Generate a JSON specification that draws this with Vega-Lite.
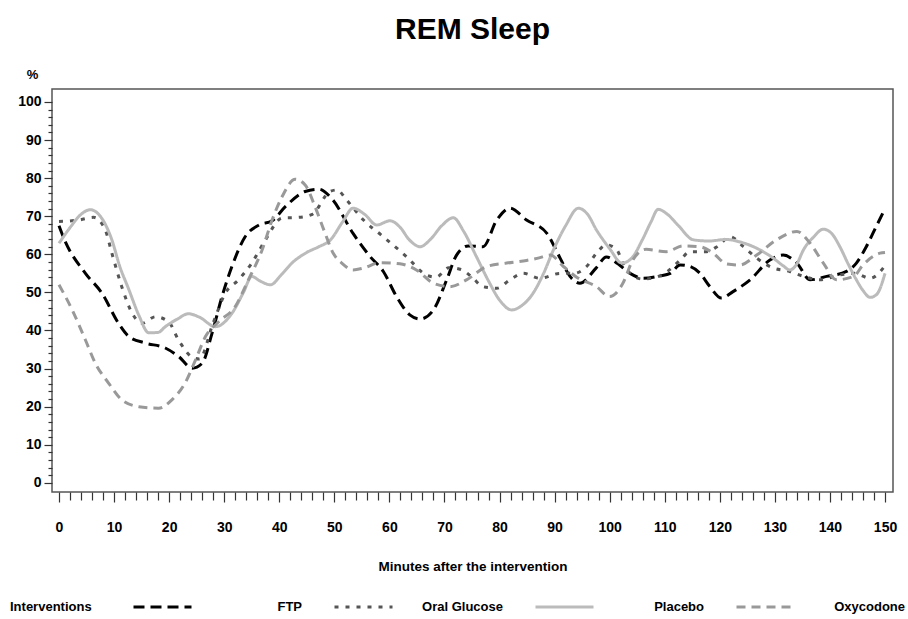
{
  "$schema": "https://vega.github.io/schema/vega-lite/v6.json",
  "width": 841,
  "height": 403,
  "autosize": {"type": "none"},
  "padding": {"left": 52, "top": 89, "right": 15, "bottom": 127},
  "background": "white",
  "config": {"font": "Liberation Sans", "view": {"stroke": "#555", "strokeWidth": 1.5}},
  "title": {"text": "REM Sleep", "fontSize": 30, "fontWeight": "bold", "color": "black", "anchor": "middle", "baseline": "alphabetic", "frame": "group", "offset": -1},
  "data": {"values": [
    {"s":"FTP","t":0,"v":67.5},{"s":"FTP","t":1,"v":63.8},{"s":"FTP","t":4.8,"v":55},{"s":"FTP","t":7.8,"v":49.8},{"s":"FTP","t":10.8,"v":41.9},{"s":"FTP","t":12.7,"v":38.4},{"s":"FTP","t":15.7,"v":36.7},{"s":"FTP","t":19.3,"v":35.4},{"s":"FTP","t":21.7,"v":33.2},{"s":"FTP","t":24.2,"v":30.1},{"s":"FTP","t":26,"v":31.4},{"s":"FTP","t":27.8,"v":39.3},{"s":"FTP","t":29.6,"v":48.9},{"s":"FTP","t":31.4,"v":56.8},{"s":"FTP","t":33.8,"v":64.6},{"s":"FTP","t":36.3,"v":67.7},{"s":"FTP","t":38.7,"v":68.8},{"s":"FTP","t":41.1,"v":72.5},{"s":"FTP","t":44.7,"v":76.5},{"s":"FTP","t":47.2,"v":77.1},{"s":"FTP","t":49.6,"v":74.5},{"s":"FTP","t":53.4,"v":65.5},{"s":"FTP","t":56.5,"v":59.4},{"s":"FTP","t":58.9,"v":55.5},{"s":"FTP","t":61.3,"v":48.9},{"s":"FTP","t":63.7,"v":44.1},{"s":"FTP","t":65.6,"v":43},{"s":"FTP","t":68,"v":45.4},{"s":"FTP","t":70.4,"v":53.3},{"s":"FTP","t":72.2,"v":59.8},{"s":"FTP","t":74.3,"v":62.2},{"s":"FTP","t":77,"v":62},{"s":"FTP","t":79.5,"v":69},{"s":"FTP","t":81.9,"v":72.1},{"s":"FTP","t":84.9,"v":69},{"s":"FTP","t":88.6,"v":65.5},{"s":"FTP","t":91,"v":59},{"s":"FTP","t":92.8,"v":54.2},{"s":"FTP","t":94.6,"v":52.4},{"s":"FTP","t":97.6,"v":56.5},{"s":"FTP","t":99.4,"v":59.3},{"s":"FTP","t":101.5,"v":57.5},{"s":"FTP","t":103.7,"v":55},{"s":"FTP","t":106.1,"v":53.7},{"s":"FTP","t":109.1,"v":54.3},{"s":"FTP","t":111,"v":55},{"s":"FTP","t":112.8,"v":57.2},{"s":"FTP","t":114.6,"v":56.8},{"s":"FTP","t":116.4,"v":55},{"s":"FTP","t":118.2,"v":51.5},{"s":"FTP","t":120.3,"v":48.5},{"s":"FTP","t":122.4,"v":50.2},{"s":"FTP","t":125.5,"v":53.3},{"s":"FTP","t":129.1,"v":58.5},{"s":"FTP","t":131.5,"v":59.8},{"s":"FTP","t":134,"v":57.7},{"s":"FTP","t":136.4,"v":53.3},{"s":"FTP","t":139.4,"v":54.2},{"s":"FTP","t":143,"v":55.5},{"s":"FTP","t":144.8,"v":57.7},{"s":"FTP","t":146.6,"v":62},{"s":"FTP","t":148.4,"v":67.3},{"s":"FTP","t":150,"v":72},
    {"s":"Oral Glucose","t":0,"v":68.6},{"s":"Oral Glucose","t":3.6,"v":69},{"s":"Oral Glucose","t":6.3,"v":69.7},{"s":"Oral Glucose","t":8.4,"v":66.4},{"s":"Oral Glucose","t":9.6,"v":60.3},{"s":"Oral Glucose","t":11.4,"v":51.5},{"s":"Oral Glucose","t":13.3,"v":44.5},{"s":"Oral Glucose","t":15.1,"v":41.9},{"s":"Oral Glucose","t":17.5,"v":43.6},{"s":"Oral Glucose","t":19.9,"v":42.3},{"s":"Oral Glucose","t":21.7,"v":37.5},{"s":"Oral Glucose","t":24.2,"v":33},{"s":"Oral Glucose","t":25.5,"v":32.5},{"s":"Oral Glucose","t":28,"v":42},{"s":"Oral Glucose","t":30.2,"v":49.8},{"s":"Oral Glucose","t":32.6,"v":53.3},{"s":"Oral Glucose","t":35,"v":57.7},{"s":"Oral Glucose","t":37.5,"v":63.8},{"s":"Oral Glucose","t":40.5,"v":69.5},{"s":"Oral Glucose","t":43.5,"v":69.7},{"s":"Oral Glucose","t":46,"v":70.5},{"s":"Oral Glucose","t":49.2,"v":76.5},{"s":"Oral Glucose","t":50.5,"v":76.9},{"s":"Oral Glucose","t":52.2,"v":74.3},{"s":"Oral Glucose","t":55.3,"v":69},{"s":"Oral Glucose","t":58.9,"v":64.6},{"s":"Oral Glucose","t":63.1,"v":59.4},{"s":"Oral Glucose","t":66.8,"v":54.5},{"s":"Oral Glucose","t":68.5,"v":54},{"s":"Oral Glucose","t":70.8,"v":56.5},{"s":"Oral Glucose","t":73,"v":56},{"s":"Oral Glucose","t":75,"v":54},{"s":"Oral Glucose","t":77,"v":51.5},{"s":"Oral Glucose","t":79.5,"v":51.1},{"s":"Oral Glucose","t":81.9,"v":53.3},{"s":"Oral Glucose","t":84.3,"v":55},{"s":"Oral Glucose","t":87.3,"v":53.7},{"s":"Oral Glucose","t":91,"v":55},{"s":"Oral Glucose","t":93.5,"v":55},{"s":"Oral Glucose","t":95.8,"v":56.8},{"s":"Oral Glucose","t":97.6,"v":60.3},{"s":"Oral Glucose","t":99.4,"v":62.5},{"s":"Oral Glucose","t":101.3,"v":61.2},{"s":"Oral Glucose","t":102.4,"v":57.7},{"s":"Oral Glucose","t":103.7,"v":55},{"s":"Oral Glucose","t":106,"v":53.5},{"s":"Oral Glucose","t":108.5,"v":54},{"s":"Oral Glucose","t":110.5,"v":55.5},{"s":"Oral Glucose","t":112.8,"v":58.5},{"s":"Oral Glucose","t":114.6,"v":60.7},{"s":"Oral Glucose","t":117.6,"v":60.7},{"s":"Oral Glucose","t":119.5,"v":62},{"s":"Oral Glucose","t":121.9,"v":64.6},{"s":"Oral Glucose","t":124.3,"v":62},{"s":"Oral Glucose","t":126.7,"v":59},{"s":"Oral Glucose","t":129.7,"v":56.4},{"s":"Oral Glucose","t":132.7,"v":55.5},{"s":"Oral Glucose","t":135.2,"v":54.2},{"s":"Oral Glucose","t":138.2,"v":53.3},{"s":"Oral Glucose","t":141.8,"v":54.6},{"s":"Oral Glucose","t":144.5,"v":55},{"s":"Oral Glucose","t":147.3,"v":53.7},{"s":"Oral Glucose","t":150,"v":57},
    {"s":"Placebo","t":0,"v":62.9},{"s":"Placebo","t":2,"v":67},{"s":"Placebo","t":4,"v":70.5},{"s":"Placebo","t":5.7,"v":71.7},{"s":"Placebo","t":7.5,"v":70},{"s":"Placebo","t":9.6,"v":63.8},{"s":"Placebo","t":11,"v":57},{"s":"Placebo","t":12.7,"v":50.7},{"s":"Placebo","t":14.5,"v":44},{"s":"Placebo","t":16.3,"v":39.4},{"s":"Placebo","t":18,"v":39.5},{"s":"Placebo","t":19.3,"v":41},{"s":"Placebo","t":21.5,"v":43},{"s":"Placebo","t":23.5,"v":44.4},{"s":"Placebo","t":25.5,"v":43.5},{"s":"Placebo","t":28.4,"v":41},{"s":"Placebo","t":31.4,"v":44.5},{"s":"Placebo","t":33.5,"v":50},{"s":"Placebo","t":35,"v":54.2},{"s":"Placebo","t":36.5,"v":53},{"s":"Placebo","t":38.4,"v":52},{"s":"Placebo","t":40.3,"v":54.5},{"s":"Placebo","t":42.3,"v":57.7},{"s":"Placebo","t":45,"v":60.5},{"s":"Placebo","t":47.2,"v":62},{"s":"Placebo","t":49.3,"v":63.8},{"s":"Placebo","t":51.5,"v":68.5},{"s":"Placebo","t":53.4,"v":72.1},{"s":"Placebo","t":55.5,"v":70.5},{"s":"Placebo","t":57.7,"v":67.7},{"s":"Placebo","t":60.1,"v":68.8},{"s":"Placebo","t":62,"v":67},{"s":"Placebo","t":63.5,"v":64},{"s":"Placebo","t":65.6,"v":62},{"s":"Placebo","t":67.5,"v":64},{"s":"Placebo","t":69.5,"v":67.5},{"s":"Placebo","t":71.6,"v":69.6},{"s":"Placebo","t":73.5,"v":66},{"s":"Placebo","t":75.8,"v":59.4},{"s":"Placebo","t":78,"v":53},{"s":"Placebo","t":80,"v":48},{"s":"Placebo","t":82.2,"v":45.4},{"s":"Placebo","t":84,"v":46.5},{"s":"Placebo","t":86.1,"v":49.8},{"s":"Placebo","t":88,"v":55},{"s":"Placebo","t":89.8,"v":61.2},{"s":"Placebo","t":92,"v":67.5},{"s":"Placebo","t":94.3,"v":72.1},{"s":"Placebo","t":96,"v":70.5},{"s":"Placebo","t":97.6,"v":66.4},{"s":"Placebo","t":100,"v":61.5},{"s":"Placebo","t":102.2,"v":57.7},{"s":"Placebo","t":104,"v":59},{"s":"Placebo","t":106,"v":64},{"s":"Placebo","t":107.5,"v":68.5},{"s":"Placebo","t":108.8,"v":71.8},{"s":"Placebo","t":110.5,"v":70.5},{"s":"Placebo","t":112.5,"v":67.5},{"s":"Placebo","t":115.2,"v":63.8},{"s":"Placebo","t":118,"v":63.5},{"s":"Placebo","t":121.2,"v":63.9},{"s":"Placebo","t":123.5,"v":63.3},{"s":"Placebo","t":126.1,"v":62},{"s":"Placebo","t":129.7,"v":59},{"s":"Placebo","t":131.5,"v":57},{"s":"Placebo","t":132.7,"v":55.9},{"s":"Placebo","t":134,"v":57.5},{"s":"Placebo","t":135.2,"v":61.2},{"s":"Placebo","t":137,"v":64.5},{"s":"Placebo","t":138.8,"v":66.6},{"s":"Placebo","t":140.3,"v":65.5},{"s":"Placebo","t":141.8,"v":62},{"s":"Placebo","t":143.3,"v":57.5},{"s":"Placebo","t":144.8,"v":53.3},{"s":"Placebo","t":146,"v":50.5},{"s":"Placebo","t":147.3,"v":48.7},{"s":"Placebo","t":148.5,"v":49.5},{"s":"Placebo","t":150,"v":55},
    {"s":"Oxycodone","t":0,"v":52},{"s":"Oxycodone","t":2.4,"v":45.4},{"s":"Oxycodone","t":4.8,"v":37.5},{"s":"Oxycodone","t":6.6,"v":31.4},{"s":"Oxycodone","t":9,"v":26.2},{"s":"Oxycodone","t":11.4,"v":21.8},{"s":"Oxycodone","t":14.5,"v":20},{"s":"Oxycodone","t":18.1,"v":19.6},{"s":"Oxycodone","t":20.5,"v":21.8},{"s":"Oxycodone","t":22.9,"v":26.2},{"s":"Oxycodone","t":24.8,"v":32.3},{"s":"Oxycodone","t":26.6,"v":38.4},{"s":"Oxycodone","t":29,"v":42.3},{"s":"Oxycodone","t":32,"v":46.3},{"s":"Oxycodone","t":34.4,"v":53.3},{"s":"Oxycodone","t":36.9,"v":61.2},{"s":"Oxycodone","t":38.7,"v":69},{"s":"Oxycodone","t":40.5,"v":75.1},{"s":"Oxycodone","t":42.9,"v":79.7},{"s":"Oxycodone","t":44.7,"v":78.2},{"s":"Oxycodone","t":46.5,"v":72.5},{"s":"Oxycodone","t":48.2,"v":66},{"s":"Oxycodone","t":49.8,"v":60.3},{"s":"Oxycodone","t":51.5,"v":57.5},{"s":"Oxycodone","t":53.4,"v":55.9},{"s":"Oxycodone","t":55.3,"v":56.4},{"s":"Oxycodone","t":58.3,"v":57.8},{"s":"Oxycodone","t":61.9,"v":57.5},{"s":"Oxycodone","t":64.9,"v":55.9},{"s":"Oxycodone","t":68,"v":52.4},{"s":"Oxycodone","t":71,"v":51.5},{"s":"Oxycodone","t":74,"v":53.3},{"s":"Oxycodone","t":77.7,"v":56.8},{"s":"Oxycodone","t":81.3,"v":57.7},{"s":"Oxycodone","t":84.9,"v":58.4},{"s":"Oxycodone","t":87,"v":59},{"s":"Oxycodone","t":89.2,"v":59.8},{"s":"Oxycodone","t":91.6,"v":56.8},{"s":"Oxycodone","t":94,"v":54},{"s":"Oxycodone","t":97.6,"v":51.5},{"s":"Oxycodone","t":100,"v":48.9},{"s":"Oxycodone","t":102.4,"v":52.4},{"s":"Oxycodone","t":104.2,"v":58.5},{"s":"Oxycodone","t":106.6,"v":61.3},{"s":"Oxycodone","t":110.3,"v":60.7},{"s":"Oxycodone","t":113.3,"v":62.2},{"s":"Oxycodone","t":116.4,"v":62},{"s":"Oxycodone","t":118.8,"v":60.3},{"s":"Oxycodone","t":121.2,"v":57.5},{"s":"Oxycodone","t":123.6,"v":57.2},{"s":"Oxycodone","t":126.7,"v":59.8},{"s":"Oxycodone","t":130.3,"v":63.8},{"s":"Oxycodone","t":134,"v":66},{"s":"Oxycodone","t":136.4,"v":62.9},{"s":"Oxycodone","t":138.8,"v":57.7},{"s":"Oxycodone","t":141.2,"v":53.3},{"s":"Oxycodone","t":144.3,"v":54.2},{"s":"Oxycodone","t":146,"v":57.2},{"s":"Oxycodone","t":149.1,"v":60.3},{"s":"Oxycodone","t":150,"v":60.5}
  ]},
  "mark": {"type": "line", "interpolate": "monotone", "strokeWidth": 3},
  "encoding": {
    "x": {
      "field": "t", "type": "quantitative",
      "scale": {"domain": [-1.27, 151.45], "nice": false, "zero": false},
      "axis": {
        "values": [0,2,4,6,8,10,12,14,16,18,20,22,24,26,28,30,32,34,36,38,40,42,44,46,48,50,52,54,56,58,60,62,64,66,68,70,72,74,76,78,80,82,84,86,88,90,92,94,96,98,100,102,104,106,108,110,112,114,116,118,120,122,124,126,128,130,132,134,136,138,140,142,144,146,148,150],
        "labelExpr": "datum.value % 10 === 0 ? datum.label : ''",
        "labelOverlap": false, "labelFlush": false,
        "domain": false, "grid": false,
        "tickSize": {"condition": {"test": "datum.value % 10 === 0", "value": 10}, "value": 8},
        "tickColor": "#333", "tickWidth": 1.2,
        "labelPadding": 18, "labelFontSize": 14, "labelFontWeight": "bold", "labelColor": "black",
        "title": "Minutes after the intervention", "titleFontSize": 13.5, "titleFontWeight": "bold", "titleColor": "black", "titlePadding": 25
      }
    },
    "y": {
      "field": "v", "type": "quantitative",
      "scale": {"domain": [-2.4, 103.4], "nice": false, "zero": false},
      "axis": {
        "values": [0,2,4,6,8,10,12,14,16,18,20,22,24,26,28,30,32,34,36,38,40,42,44,46,48,50,52,54,56,58,60,62,64,66,68,70,72,74,76,78,80,82,84,86,88,90,92,94,96,98,100],
        "labelExpr": "datum.value % 10 === 0 ? datum.label : ''",
        "labelOverlap": false, "labelFlush": false,
        "domain": false, "grid": false,
        "tickSize": {"condition": {"test": "datum.value % 10 === 0", "value": 8}, "value": 4},
        "tickColor": "#333", "tickWidth": 1.2,
        "labelPadding": 3, "labelFontSize": 14, "labelFontWeight": "bold", "labelColor": "black",
        "title": "%", "titleAngle": 0, "titleX": -20, "titleY": -8, "titleAlign": "center", "titleBaseline": "bottom",
        "titleFontSize": 13, "titleFontWeight": "bold", "titleColor": "black"
      }
    },
    "color": {
      "field": "s", "type": "nominal",
      "scale": {"domain": ["FTP", "Oral Glucose", "Placebo", "Oxycodone"], "range": ["#000000", "#555555", "#bbbbbb", "#999999"]},
      "legend": {
        "title": "Interventions", "orient": "none", "legendX": -42, "legendY": 510, "direction": "horizontal",
        "titleOrient": "left", "titleFontSize": 13, "titleFontWeight": "bold", "titleColor": "black", "titlePadding": 40, "titleBaseline": "middle",
        "symbolType": "stroke", "symbolSize": 3364, "symbolStrokeWidth": 3, "clipHeight": 16,
        "labelAlign": "right", "labelOffset": 109, "labelFontSize": 13, "labelFontWeight": "bold", "labelColor": "black", "labelLimit": 200,
        "columnPadding": 31, "padding": 0
      }
    },
    "strokeDash": {
      "field": "s", "type": "nominal",
      "scale": {"domain": ["FTP", "Oral Glucose", "Placebo", "Oxycodone"], "range": [[11, 6], [4, 7], [1, 0], [9, 6]]},
      "legend": {
        "title": "Interventions", "orient": "none", "legendX": -42, "legendY": 510, "direction": "horizontal",
        "titleOrient": "left", "titleFontSize": 13, "titleFontWeight": "bold", "titleColor": "black", "titlePadding": 40, "titleBaseline": "middle",
        "symbolType": "stroke", "symbolSize": 3364, "symbolStrokeWidth": 3, "clipHeight": 16,
        "labelAlign": "right", "labelOffset": 109, "labelFontSize": 13, "labelFontWeight": "bold", "labelColor": "black", "labelLimit": 200,
        "columnPadding": 31, "padding": 0
      }
    }
  }
}
